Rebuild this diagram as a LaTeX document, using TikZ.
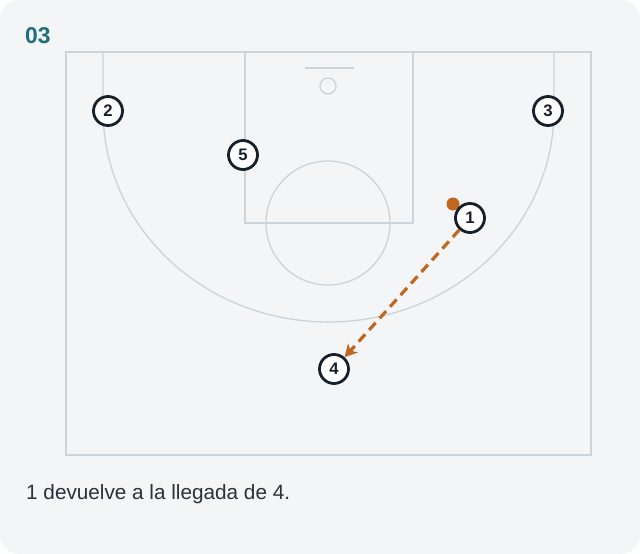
\documentclass[tikz,border=0pt]{standalone}
\usepackage{fontspec}
\setmainfont{Liberation Sans}
\usetikzlibrary{arrows.meta}
\definecolor{cardbg}{HTML}{F3F5F7}
\definecolor{courtline}{HTML}{CBD4DA}
\definecolor{playerink}{HTML}{16202B}
\definecolor{passcol}{HTML}{C0661E}
\definecolor{titlecol}{HTML}{1F6E7E}
\definecolor{textcol}{HTML}{2B3138}
\tikzset{
    court/.style={line width=0.75pt, courtline},
    player/.style={circle, draw=playerink, fill=white, line width=1.6pt,
        minimum size=16.5pt, inner sep=0pt, font=\fontsize{9.5}{10}\selectfont\bfseries, text=playerink},
    pass/.style={line width=1.8pt, passcol, dash pattern=on 5.5pt off 3.4pt,
        -{Stealth[length=7pt, width=7.5pt, inset=2pt]}}
}
\begin{document}
\begin{tikzpicture}[x=0.02cm, y=-0.02cm]
        \useasboundingbox (0,0) rectangle (640,554);
        \fill[white] (0,0) rectangle (640,554);
        \fill[cardbg, rounded corners=11pt] (0,0) rectangle (640,554);
        % court
        \draw[court] (66,52) rectangle (591,455);
        \draw[court] (245,52) rectangle (413,223);
        \draw[court] (305,68) -- (354,68);
        \draw[court] (328,86) circle[radius=8];
        \draw[court] (328,223) circle[radius=62];
        \draw[court] (103,52) -- (103,110) arc[start angle=180, end angle=360, x radius=225.5, y radius=-212] -- (554,52);
        % title and caption
        \node[anchor=west, text=titlecol, font=\fontsize{13}{15}\selectfont\bfseries] (title) at (19,36) {03};
        \node[anchor=west, text=textcol, font=\fontsize{11.8}{14}\selectfont] (caption) at (20,494) {1 devuelve a la llegada de 4.};
        % players
        \node[player] (p2) at (108,111) {2};
        \node[player] (p3) at (548,111) {3};
        \node[player] (p5) at (243,155) {5};
        \node[player] (p4) at (334,369) {4};
        \fill[passcol] (453,204) circle[radius=6.5];
        \node[player] (p1) at (470,218) {1};
        % pass
        \draw[pass] (p1) -- (p4);
    \end{tikzpicture}
\end{document}
